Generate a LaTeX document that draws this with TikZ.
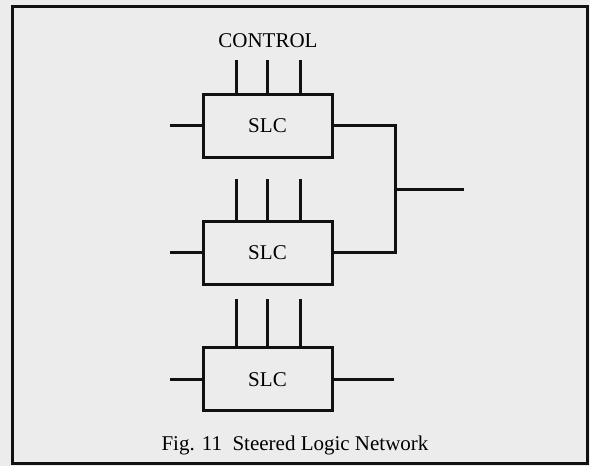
\documentclass[tikz,border=0pt]{standalone}
\usepackage{fontspec}
\setmainfont{Liberation Serif}
\usepackage{xcolor}
\usepackage{tikz}
\definecolor{SLPaper}{HTML}{ECECEC}
\definecolor{SLInk}{HTML}{111111}
\tikzset{
  slcbox/.style={draw=SLInk,line width=3pt,minimum width=129pt,minimum height=63pt,
    inner sep=0pt,font=\fontsize{21}{24}\selectfont},
  wire/.style={SLInk,line width=3pt},
  lbl/.style={font=\fontsize{21}{24}\selectfont,inner sep=0pt}
}

\begin{document}
\begin{tikzpicture}[x=1pt,y=1pt]
\path[use as bounding box,fill=SLPaper] (0,0) rectangle (590,466);
\draw[SLInk,line width=3pt] (12,2) rectangle (587,459);
% the three steered logic cells
\node[slcbox] (slcA) at (267.5,340) {SLC};
\node[slcbox] (slcB) at (267.5,213) {SLC};
\node[slcbox] (slcC) at (267.5,86.5) {SLC};
\node[lbl] (ctrl) at (268,425) {CONTROL};
% control lines
\foreach \dx in {-31.5,0,32.5} {
  \draw[wire] ([xshift=\dx pt]slcA.north) -- ++(0,33);
  \draw[wire] ([xshift=\dx pt]slcB.north) -- ++(0,41);
  \draw[wire] ([xshift=\dx pt]slcC.north) -- ++(0,47);
}
% inputs and outputs
\coordinate (inA) at (170,340);
\coordinate (inB) at (170,213);
\coordinate (inC) at (170,86.5);
\coordinate (join) at (395,276);
\coordinate (outAB) at (464,276);
\coordinate (outC) at (394,86.5);
\draw[wire] (inA) -- (slcA.west);
\draw[wire] (inB) -- (slcB.west);
\draw[wire] (inC) -- (slcC.west);
\draw[wire] (slcA.east) -| (join);
\draw[wire] (slcB.east) -| (join);
\draw[wire] (join) -- (outAB);
\draw[wire] (slcC.east) -- (outC);
\node[lbl] (caption) at (295,21) {Fig. 11\enspace Steered Logic Network};
\end{tikzpicture}
\end{document}
